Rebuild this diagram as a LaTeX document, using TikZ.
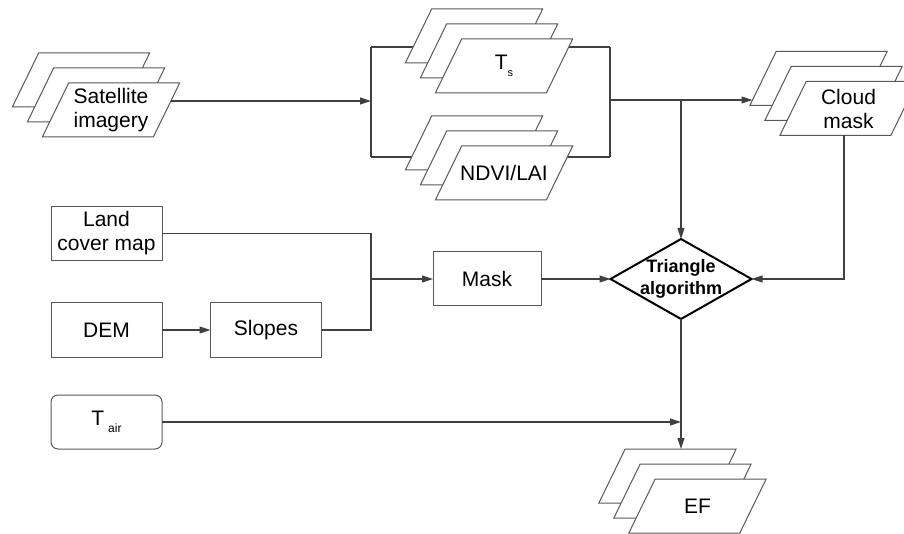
\documentclass[tikz,border=0pt]{standalone}
\usepackage{fontspec}
\setmainfont{Liberation Sans}
\usetikzlibrary{shapes.geometric,arrows.meta,calc}

\tikzset{
  base/.style={font=\fontsize{21}{24}\selectfont, align=center, text=black},
  sheetline/.style={draw=black!65, line width=1pt, fill=white},
  sheettext/.style={base, rectangle, minimum width=111pt, minimum height=54pt,
    inner sep=0pt, outer sep=0pt},
  boxnode/.style={base, draw=black!65, line width=1pt, fill=white,
    minimum width=111pt, minimum height=54pt, inner sep=0pt, outer sep=0pt},
  decision/.style={diamond, draw=black, line width=2pt, fill=white,
    minimum width=141pt, minimum height=80pt, inner sep=0pt, outer sep=0pt},
  link/.style={draw=black!75, line width=1.1pt},
  flow/.style={link, -{Triangle[length=11pt,width=7pt]}},
}

% one slanted sheet centred at (#2,#3), named #1, carrying text #4
\newcommand\sheet[4]{%
  \filldraw[sheetline] ({#2-42.35},{#3-27}) -- ({#2+68.65},{#3-27})
    -- ({#2+42.35},{#3+27}) -- ({#2-68.65},{#3+27}) -- cycle;
  \node[sheettext] (#1) at (#2,#3) {#4};
}
% three stacked sheets: back (#1c), middle (#1b), front (#1)
\newcommand\sheetstack[4]{%
  \sheet{#1c}{#2-30}{#3-30}{}
  \sheet{#1b}{#2-15}{#3-15}{}
  \sheet{#1}{#2}{#3}{#4}
}

\begin{document}
\begin{tikzpicture}[x=1pt,y=-1pt]
  \useasboundingbox (0,0) rectangle (904,534);

  % frame gathering the two satellite products
  \coordinate (brLT) at (371,47);
  \coordinate (brLB) at (371,157);
  \coordinate (brRT) at (610,47);
  \coordinate (brRB) at (610,157);
  \coordinate (brL) at (371,101);
  \coordinate (brR) at (610,100);
  \draw[link] (brLT) -- (brRT) (brLB) -- (brRB);
  \draw[link] (brLT) -- (brLB) (brRT) -- (brRB);

  % stacked inputs and outputs
  \sheetstack{sat}{111}{110}{Satellite\\imagery}
  \sheetstack{ts}{504}{66}{T\raisebox{-7pt}{\fontsize{11}{11}\selectfont s}}
  \sheetstack{ndvi}{504}{173}{NDVI/LAI}
  \sheetstack{cm}{848.5}{108.5}{Cloud\\mask}
  \sheetstack{ef}{697.5}{506}{EF}

  % boxes
  \node[boxnode] (land) at (106.5,233.5) {Land\\cover map};
  \node[boxnode] (dem) at (106.5,330) {DEM};
  \node[boxnode] (slopes) at (266,330) {Slopes};
  \node[boxnode, minimum width=108pt] (mask) at (487,279) {Mask};
  \node[boxnode, rounded corners=7pt] (tair) at (106.5,422)
    {T\hspace{4pt}\raisebox{-7pt}{\fontsize{12}{12}\selectfont air}};

  % decision
  \node[decision] (dia) at (681,279) {};
  \node[font=\bfseries\fontsize{18}{22}\selectfont, align=center] (diatext)
    at (dia.center) {Triangle\\algorithm};

  % junctions and edge points on the slanted sheets
  \coordinate (m1) at (371,279);
  \coordinate (jT) at (brR -| dia.north);
  \coordinate (satout) at ([xshift=4.4pt,yshift=9pt]sat.east);
  \coordinate (cmin) at ([xshift=-10.5pt]cmc.west);
  \coordinate (cmout) at ([xshift=-4.5pt]cm.south);
  \coordinate (efin) at ([xshift=13pt]efc.north);

  % connectors
  \draw[flow] (satout) -- (satout -| brL);
  \draw[flow] (brR) -- (brR -| cmin);
  \draw[flow] (jT) -- (dia.north);
  \draw[link] (land.east) -| (m1) |- (slopes.east);
  \draw[flow] (m1) -- (mask.west);
  \draw[flow] (dem.east) -- (slopes.west);
  \draw[flow] (mask.east) -- (dia.west);
  \draw[flow] (cmout) |- (dia.east);
  \draw[flow] (tair.east) -- (tair.east -| dia.south);
  \draw[flow] (dia.south) -- (dia.south |- efin);
\end{tikzpicture}
\end{document}
